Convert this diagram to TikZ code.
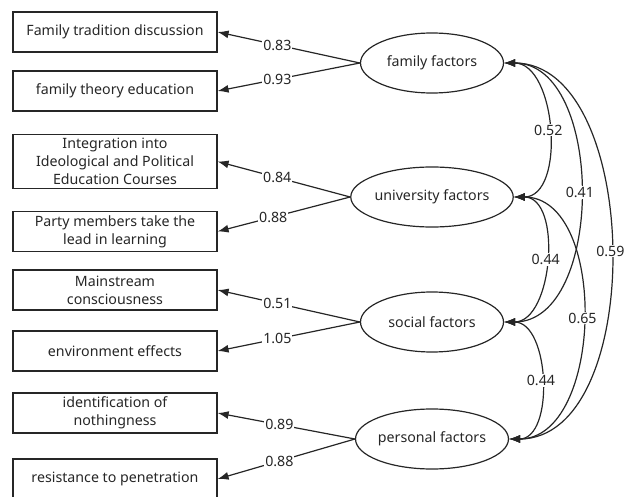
\documentclass[tikz,border=0pt]{standalone}
\usepackage{fontspec}
\setmainfont{Noto Sans}
\usepackage{tikz}
\usetikzlibrary{arrows.meta,shapes.geometric}
\definecolor{InkGray}{HTML}{262626}

\begin{document}
\begin{tikzpicture}[x=1pt,y=-1pt,
    every node/.style={text=InkGray,font=\fontsize{14.2}{17.7}\selectfont},
    itembox/.style={draw=InkGray,line width=1.2pt,minimum width=204pt,
                    minimum height=40pt,inner sep=4pt,align=center},
    factor/.style={ellipse,draw=InkGray,line width=1.2pt,
                   minimum width=143pt,minimum height=60pt,inner sep=0pt},
    load/.style={draw=InkGray,line width=1.2pt,-{Latex[length=11pt,width=8pt]}},
    cov/.style={draw=InkGray,line width=1.2pt,
                {Latex[length=11pt,width=8pt]}-{Latex[length=11pt,width=8pt]}},
    coef/.style={fill=white,inner sep=1pt}]
        \useasboundingbox (0,0) rectangle (624,497);
        % observed items
        \node[itembox] (fam1) at (115,32)    {Family tradition discussion};
        \node[itembox] (fam2) at (115,91)    {family theory education};
        \node[itembox] (uni1) at (115,161.5)
              {Integration into\\Ideological and Political\\Education Courses};
        \node[itembox] (uni2) at (115,231.5)
              {Party members take the\\lead in learning};
        \node[itembox] (soc1) at (115,290)   {Mainstream\\consciousness};
        \node[itembox] (soc2) at (115,351)   {environment effects};
        \node[itembox] (per1) at (115,413)   {identification of\\nothingness};
        \node[itembox] (per2) at (115,479)   {resistance to penetration};
        % latent factors
        \node[factor] (fam) at (432,63)  {family factors};
        \node[factor] (uni) at (432,197) {university factors};
        \node[factor] (soc) at (432,322) {social factors};
        \node[factor] (per) at (432,439) {personal factors};
        % loadings
        \draw[load] (fam.west) -- node[coef,pos=0.58]{0.83} (fam1.east);
        \draw[load] (fam.west) -- node[coef,pos=0.58]{0.93} (fam2.east);
        \draw[load] (uni.west) -- node[coef,pos=0.55]{0.84} (uni1.east);
        \draw[load] (uni.west) -- node[coef,pos=0.58]{0.88} (uni2.east);
        \draw[load] (soc.west) -- node[coef,pos=0.58]{0.51} (soc1.east);
        \draw[load] (soc.west) -- node[coef,pos=0.58]{1.05} (soc2.east);
        \draw[load] (per.west) -- node[coef,pos=0.55]{0.89} (per1.east);
        \draw[load] (per.west) -- node[coef,pos=0.55]{0.88} (per2.east);
        % covariances
        \draw[cov] (fam.east) to[out=0,in=0] node[coef]{0.52} (uni.east);
        \draw[cov] (fam.east) to[out=0,in=0] node[coef]{0.41} (soc.east);
        \draw[cov] (fam.east) to[out=0,in=0,looseness=0.94]
              node[coef]{0.59} (per.east);
        \draw[cov] (uni.east) to[out=0,in=0] node[coef]{0.44} (soc.east);
        \draw[cov] (uni.east) to[out=0,in=0] node[coef]{0.65} (per.east);
        \draw[cov] (soc.east) to[out=0,in=0] node[coef]{0.44} (per.east);
\end{tikzpicture}
\end{document}
